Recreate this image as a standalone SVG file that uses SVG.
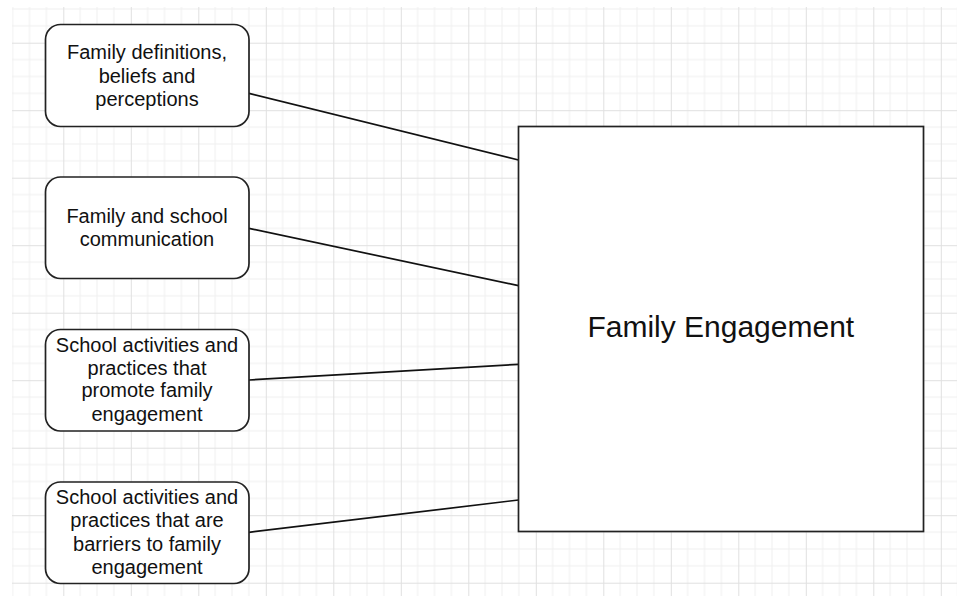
<svg xmlns="http://www.w3.org/2000/svg" width="957" height="596" viewBox="0 0 957 596">
<style>
.node{fill:#ffffff;stroke:#222222;stroke-width:1.7}
.lbl{font-family:"Liberation Sans",Arial,sans-serif;font-size:20px;fill:#111111;text-anchor:middle}
.big{font-family:"Liberation Sans",Arial,sans-serif;font-size:30px;fill:#111111;text-anchor:middle}
.conn{stroke:#111111;stroke-width:1.7;fill:none}
</style>
<defs>
<pattern id="grid" patternUnits="userSpaceOnUse" x="63.3" y="42.7" width="67.5" height="67.5">
<path d="M16.875 0V67.5M33.75 0V67.5M50.625 0V67.5M0 16.875H67.5M0 33.75H67.5M0 50.625H67.5" stroke="#f0f0f0" stroke-width="1" fill="none"/>
<path d="M0.5 0V67.5M0 0.5H67.5" stroke="#e0e0e0" stroke-width="1" fill="none"/>
</pattern>
</defs>
<rect x="0" y="0" width="957" height="596" fill="#ffffff"/>
<rect x="12" y="7" width="945" height="589" fill="url(#grid)"/>
<g id="connectors">
<line class="conn" x1="249" y1="93.3" x2="518.5" y2="160"/>
<line class="conn" x1="249" y1="228.3" x2="518.5" y2="285.7"/>
<line class="conn" x1="249" y1="380" x2="518.5" y2="364.3"/>
<line class="conn" x1="249" y1="532.3" x2="518.5" y2="500"/>
</g>
<g id="node-definitions">
<rect class="node" x="45.5" y="24.5" width="203.5" height="102" rx="15"/>
<text class="lbl" x="147" y="59.3">Family definitions,</text>
<text class="lbl" x="147" y="82.7">beliefs and</text>
<text class="lbl" x="147" y="106">perceptions</text>
</g>
<g id="node-communication">
<rect class="node" x="45.5" y="177" width="203.5" height="101.5" rx="15"/>
<text class="lbl" x="147" y="223.3">Family and school</text>
<text class="lbl" x="147" y="246.3">communication</text>
</g>
<g id="node-promote">
<rect class="node" x="45.5" y="329.5" width="203.5" height="101.5" rx="15"/>
<text class="lbl" x="147" y="351.7">School activities and</text>
<text class="lbl" x="147" y="374.5">practices that</text>
<text class="lbl" x="147" y="397.3">promote family</text>
<text class="lbl" x="147" y="420.7">engagement</text>
</g>
<g id="node-barriers">
<rect class="node" x="45.5" y="482" width="203.5" height="101.5" rx="15"/>
<text class="lbl" x="147" y="504">School activities and</text>
<text class="lbl" x="147" y="527.3">practices that are</text>
<text class="lbl" x="147" y="550.7">barriers to family</text>
<text class="lbl" x="147" y="574">engagement</text>
</g>
<g id="node-engagement">
<rect class="node" x="518.5" y="126.5" width="405" height="405"/>
<text class="big" x="720.8" y="336.7">Family Engagement</text>
</g>
</svg>
